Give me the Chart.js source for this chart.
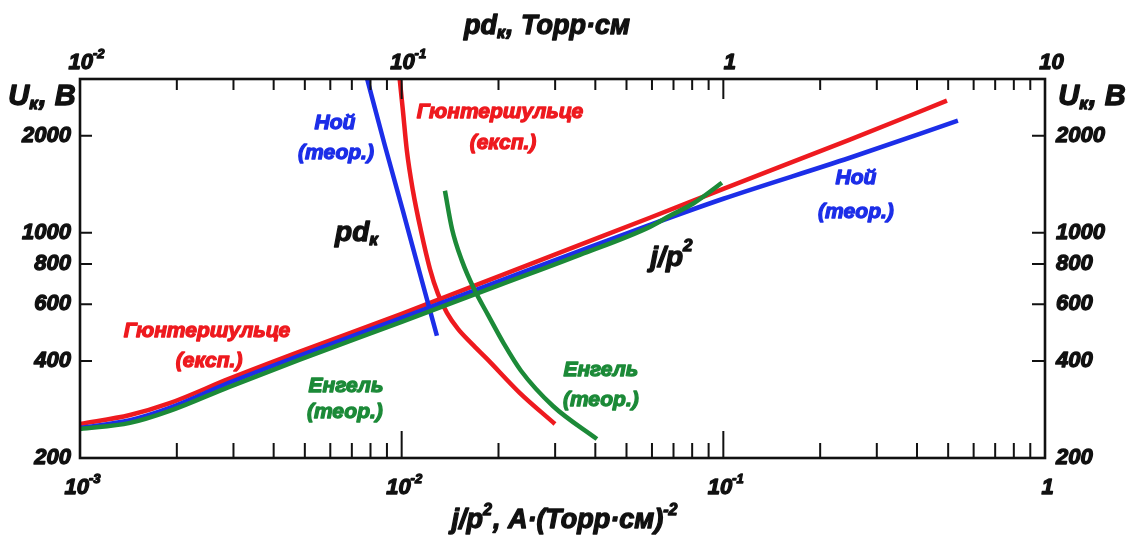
<!DOCTYPE html>
<html>
<head>
<meta charset="utf-8">
<script src="https://cdn.jsdelivr.net/npm/chart.js@4.4.0/dist/chart.umd.min.js"></script>
<style>
  body { margin: 0; background: #fff; }
  #wrap { width: 1132px; height: 540px; }
</style>
</head>
<body>
<div id="wrap"><canvas id="grafica" width="1132" height="540"></canvas></div>
<script>
// Datos

// U(j/p^2)
const jGuent = [0.001, 0.00143, 0.0019, 0.0029, 0.0048, 0.01, 0.0202, 0.0358, 0.0591, 0.1, 0.2475, 0.4956];
const uGuentJ = [255, 272, 296, 352, 427, 560, 735, 917, 1113, 1369, 1944, 2570];

const jNoi = [0.001, 0.00143, 0.0019, 0.0029, 0.0048, 0.01, 0.0202, 0.0358, 0.0591, 0.1, 0.2475, 0.536];
const uNoiJ = [248, 262, 286, 342, 415, 544, 709, 879, 1058, 1275, 1709, 2227];

const jEngel = [0.001, 0.00143, 0.0019, 0.0029, 0.0048, 0.01, 0.0202, 0.0358, 0.0591, 0.0682, 0.0804, 0.099];
const uEngelJ = [246, 257, 280, 332, 403, 529, 689, 854, 1043, 1129, 1230, 1429];

// U(pd)
const pdNoi = [0.0769, 0.0887, 0.1009, 0.114, 0.1287];
const uNoiPd = [3184, 1862, 1170, 746, 479];

const pdGuent = [0.098, 0.1009, 0.1038, 0.1084, 0.1148, 0.1224, 0.1297, 0.1383, 0.1496, 0.1654, 0.1842, 0.2332, 0.2996];
const uGuentPd = [3184, 2391, 1796, 1350, 1014, 773, 646, 564, 503, 452, 406, 318, 255];

const pdEngel = [0.1363, 0.1434, 0.154, 0.1678, 0.1855, 0.208, 0.2349, 0.2953, 0.4046];
const uEngelPd = [1350, 1028, 818, 670, 556, 452, 373, 290, 229];

// ejes
const uTicks = [200, 400, 600, 800, 1000, 2000];
const jDecadas = [0.001, 0.01, 0.1, 1];
const jEtiquetas = [['10', '-3'], ['10', '-2'], ['10', '-1'], ['1', '']];
const pdDecadas = [0.01, 0.1, 1, 10];
const pdEtiquetas = [['10', '-2'], ['10', '-1'], ['1', ''], ['10', '']];

// etiquetas dentro de la grafica (posicion en j/p^2, U)
const notas = [
  {t: [['Ной', '']], j: 0.0062, u: 2180, c: 'azul'},
  {t: [['(теор.)', '']], j: 0.00625, u: 1771, c: 'azul'},
  {t: [['Гюнтершульце', '']], j: 0.0202, u: 2374, c: 'rojo'},
  {t: [['(експ.)', '']], j: 0.02065, u: 1902, c: 'rojo'},
  {t: [['pd', ''], ['к', 'sub']], j: 0.00726, u: 999, c: 'negro', big: true},
  {t: [['j/p', ''], ['2', 'sup']], j: 0.0692, u: 836, c: 'negro', big: true},
  {t: [['Ной', '']], j: 0.2584, u: 1481, c: 'azul'},
  {t: [['(теор.)', '']], j: 0.2584, u: 1161, c: 'azul'},
  {t: [['Гюнтершульце', '']], j: 0.00248, u: 496, c: 'rojo'},
  {t: [['(експ.)', '']], j: 0.00252, u: 400, c: 'rojo'},
  {t: [['Енгель', '']], j: 0.00671, u: 335, c: 'verde'},
  {t: [['(теор.)', '']], j: 0.00666, u: 278, c: 'verde'},
  {t: [['Енгель', '']], j: 0.0416, u: 375, c: 'verde'},
  {t: [['(теор.)', '']], j: 0.0416, u: 303, c: 'verde'}
];

const colores = {rojo: '#ee1a1f', azul: '#1c2ee8', verde: '#1c8a38', negro: '#111'};

function puntos(xs, ys) {
  return xs.map((x, i) => ({x: x, y: ys[i]}));
}

function serie(xs, ys, color, eje) {
  return {
    data: puntos(xs, ys),
    borderColor: color,
    borderWidth: 4.5,
    pointRadius: 0,
    fill: false,
    cubicInterpolationMode: 'monotone',
    xAxisID: eje,
    yAxisID: 'y'
  };
}

const FUENTE = '"Liberation Sans", Arimo, "DejaVu Sans", Arial, sans-serif';
function fuente(size) {
  return 'italic bold ' + size + 'px ' + FUENTE;
}

// texto con superindices / subindices
function textoRico(ctx, partes, x, y, size, color, align) {
  let total = 0;
  const medidas = partes.map(p => {
    const s = p[1] ? Math.round(size * 0.6) : size;
    ctx.font = fuente(s);
    const w = ctx.measureText(p[0]).width + (p[1] ? 1 : 0);
    total += w;
    return {t: p[0], tipo: p[1], s: s, w: w};
  });
  let cx = align === 'left' ? x : (align === 'right' ? x - total : x - total / 2);
  ctx.fillStyle = color;
  ctx.strokeStyle = color;
  ctx.lineWidth = 1.3;
  ctx.lineJoin = 'round';
  ctx.textBaseline = 'middle';
  ctx.textAlign = 'left';
  medidas.forEach(m => {
    ctx.font = fuente(m.s);
    let dy = 0;
    if (m.tipo === 'sup') dy = -size * 0.4;
    if (m.tipo === 'sub') dy = size * 0.25;
    ctx.fillText(m.t, cx, y + dy);
    ctx.strokeText(m.t, cx, y + dy);
    cx += m.w;
  });
}

const marco = {
  id: 'marco',
  afterDraw(chart) {
    const ctx = chart.ctx;
    const a = chart.chartArea;
    const sx = chart.scales.x, sx2 = chart.scales.x2, sy = chart.scales.y;
    ctx.save();

    // marco
    ctx.strokeStyle = '#111';
    ctx.lineWidth = 2.6;
    ctx.strokeRect(a.left, a.top, a.right - a.left, a.bottom - a.top);

    // marcas del eje inferior
    ctx.lineWidth = 2;
    ctx.beginPath();
    jDecadas.forEach(d => {
      const px = sx.getPixelForValue(d);
      ctx.moveTo(px, a.bottom); ctx.lineTo(px, a.bottom - 27);
      for (let k = 2; k <= 9; k++) {
        if (d * k >= 1) break;
        const p = sx.getPixelForValue(d * k);
        ctx.moveTo(p, a.bottom); ctx.lineTo(p, a.bottom - 15);
      }
    });
    // eje superior
    pdDecadas.forEach(d => {
      const px = sx2.getPixelForValue(d);
      ctx.moveTo(px, a.top); ctx.lineTo(px, a.top + 20);
      for (let k = 2; k <= 9; k++) {
        if (d * k >= 10) break;
        const p = sx2.getPixelForValue(d * k);
        ctx.moveTo(p, a.top); ctx.lineTo(p, a.top + 11);
      }
    });
    // ejes verticales
    uTicks.forEach(u => {
      const py = sy.getPixelForValue(u);
      ctx.moveTo(a.left, py); ctx.lineTo(a.left + 12, py);
      ctx.moveTo(a.right, py); ctx.lineTo(a.right - 13, py);
    });
    ctx.stroke();

    // etiquetas de los ejes
    uTicks.forEach(u => {
      const py = sy.getPixelForValue(u);
      textoRico(ctx, [[String(u), '']], a.left - 9, py, 22, '#111', 'right');
      textoRico(ctx, [[String(u), '']], a.right + 11, py, 22, '#111', 'left');
    });
    jDecadas.forEach((d, i) => {
      const e = jEtiquetas[i];
      textoRico(ctx, [[e[0], ''], [e[1], 'sup']], sx.getPixelForValue(d) + 3, a.bottom + 30, 22, '#111', 'center');
    });
    pdDecadas.forEach((d, i) => {
      const e = pdEtiquetas[i];
      textoRico(ctx, [[e[0], ''], [e[1], 'sup']], sx2.getPixelForValue(d) + 7, a.top - 16, 22, '#111', 'center');
    });

    // titulos
    textoRico(ctx, [['pd', ''], ['к', 'sub'], [', Торр·см', '']], 547, 27, 27, '#111', 'center');
    textoRico(ctx, [['j/p', ''], ['2', 'sup'], [', A·(Торр·см)', ''], ['-2', 'sup']], 565, 521, 27, '#111', 'center');
    textoRico(ctx, [['U', ''], ['к', 'sub'], [', В', '']], 42, 97, 29, '#111', 'center');
    textoRico(ctx, [['U', ''], ['к', 'sub'], [', В', '']], 1092, 97, 29, '#111', 'center');

    // notas
    notas.forEach(n => {
      textoRico(ctx, n.t, sx.getPixelForValue(n.j), sy.getPixelForValue(n.u),
        n.big ? 28 : 21, colores[n.c], 'center');
    });

    ctx.restore();
  }
};

function ejeLog(pos, min, max, tam) {
  return {
    type: 'logarithmic',
    position: pos,
    min: min,
    max: max,
    ticks: {display: false},
    grid: {display: false},
    border: {display: false},
    afterFit: function(scale) {
      if (pos === 'top' || pos === 'bottom') scale.height = tam;
      else scale.width = tam;
    }
  };
}

const config = {
  type: 'line',
  data: {
    datasets: [
      serie(jEngel, uEngelJ, colores.verde, 'x'),
      serie(pdEngel, uEngelPd, colores.verde, 'x2'),
      serie(jNoi, uNoiJ, colores.azul, 'x'),
      serie(pdNoi, uNoiPd, colores.azul, 'x2'),
      serie(jGuent, uGuentJ, colores.rojo, 'x'),
      serie(pdGuent, uGuentPd, colores.rojo, 'x2')
    ]
  },
  options: {
    responsive: false,
    animation: false,
    layout: {padding: 0},
    plugins: {legend: {display: false}, tooltip: {enabled: false}},
    scales: {
      x: ejeLog('bottom', 0.001, 1, 82),
      x2: ejeLog('top', 0.01, 10, 79),
      y: ejeLog('left', 200, 3000, 80),
      y2: ejeLog('right', 200, 3000, 87)
    }
  },
  plugins: [marco]
};

const grafica = new Chart(document.getElementById('grafica'), config);
</script>
</body>
</html>
